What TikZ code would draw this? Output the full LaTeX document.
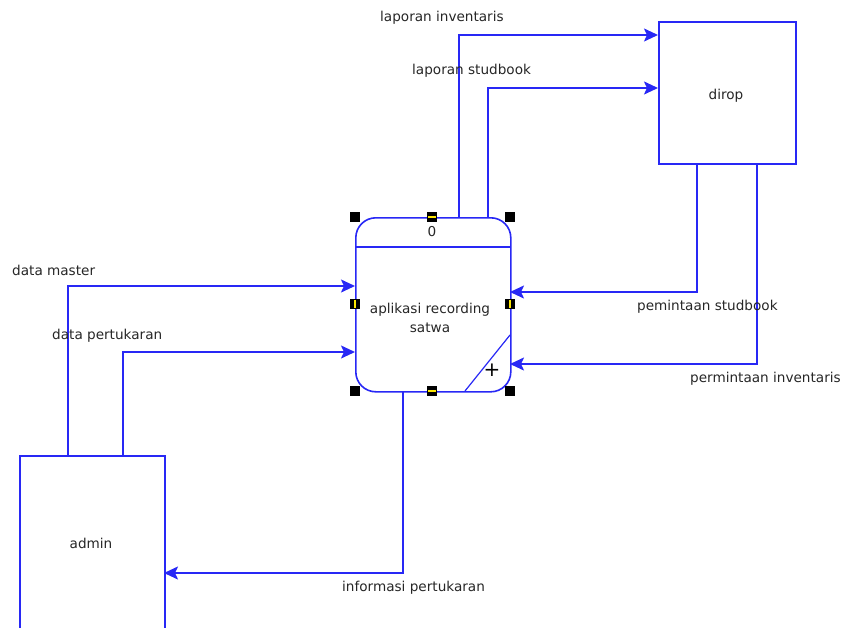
\documentclass[tikz,border=0pt]{standalone}
\usepackage{fontspec}
\setmainfont{DejaVu Sans}
\usetikzlibrary{arrows.meta}
\definecolor{flowblue}{RGB}{40,40,245}
\begin{document}
\begin{tikzpicture}[x=1pt,y=-1pt,
  tip/.tip={Stealth[length=14pt,width=13pt,inset=3pt]},
  flow/.style={draw=flowblue,line width=1.8pt,-tip},
  entity/.style={draw=flowblue,line width=1.6pt,fill=white,anchor=north west,inner sep=0pt},
  lbl/.style={font=\fontsize{13.6}{15}\selectfont,text=black!85,inner sep=0pt},
  handle/.style={fill=black,minimum size=10pt,inner sep=0pt},
  midhandle/.style={handle,path picture={\draw[yellow!90!orange,line width=1.4pt]
      ([xshift=-4pt]path picture bounding box.center) -- ([xshift=4pt]path picture bounding box.center);}},
  midhandlev/.style={handle,path picture={\draw[yellow!90!orange,line width=1.4pt]
      ([yshift=-4pt]path picture bounding box.center) -- ([yshift=4pt]path picture bounding box.center);}}]
\useasboundingbox (0,0) rectangle (849,627);

% external entities
\node[entity,minimum width=137pt,minimum height=142pt] (dirop) at (658,21) {};
\node[lbl] at (726,96) {dirop};
\node[entity,minimum width=145pt,minimum height=174pt] (admin) at (19,455) {};
\node[lbl] at (91,543) {admin};

% process
\node[draw=flowblue,line width=1.6pt,rounded corners=20pt,minimum width=155pt,minimum height=174pt,
      anchor=north west,inner sep=0pt] (proc) at (355,217) {};
\draw[flowblue,line width=1.4pt] (355,247) -- (510,247);
\draw[flowblue,line width=1.2pt] (465,391) -- (510,335);
\node[lbl] at (432,232) {0};
\node[lbl,align=center] at (430,318) {aplikasi recording\\[4pt]satwa};
\node[font=\fontsize{20}{20}\selectfont,inner sep=0pt] at (492,370) {+};

% connector anchors
\coordinate (pI) at (459,217);
\coordinate (pS) at (488,217);
\coordinate (dS) at (697,163);
\coordinate (dI) at (757,163);
\coordinate (aM) at (68,455);
\coordinate (aP) at (123,455);
\coordinate (pO) at (403,391);

% flows
\draw[flow] (pI) |- (658,35);
\draw[flow] (pS) |- (658,88);
\draw[flow] (dS) |- (510,292);
\draw[flow] (dI) |- (510,364);
\draw[flow] (aM) |- (355,286);
\draw[flow] (aP) |- (355,352);
\draw[flow] (pO) |- (164,573);

% flow labels
\node[lbl,anchor=west] at (380,18) {laporan inventaris};
\node[lbl,anchor=west] at (412,71) {laporan studbook};
\node[lbl,anchor=west] at (637,307) {pemintaan studbook};
\node[lbl,anchor=west] at (690,379) {permintaan inventaris};
\node[lbl,anchor=west] at (12,270) {data master};
\node[lbl,anchor=west] at (52,336) {data pertukaran};
\node[lbl,anchor=west] at (342,588) {informasi pertukaran};

% selection handles
\foreach \hx/\hy in {355/217,510/217,355/391,510/391}
  \node[handle] at (\hx,\hy) {};
\node[midhandle] at (432,217) {};
\node[midhandle] at (432,391) {};
\node[midhandlev] at (355,304) {};
\node[midhandlev] at (510,304) {};
\end{tikzpicture}
\end{document}
